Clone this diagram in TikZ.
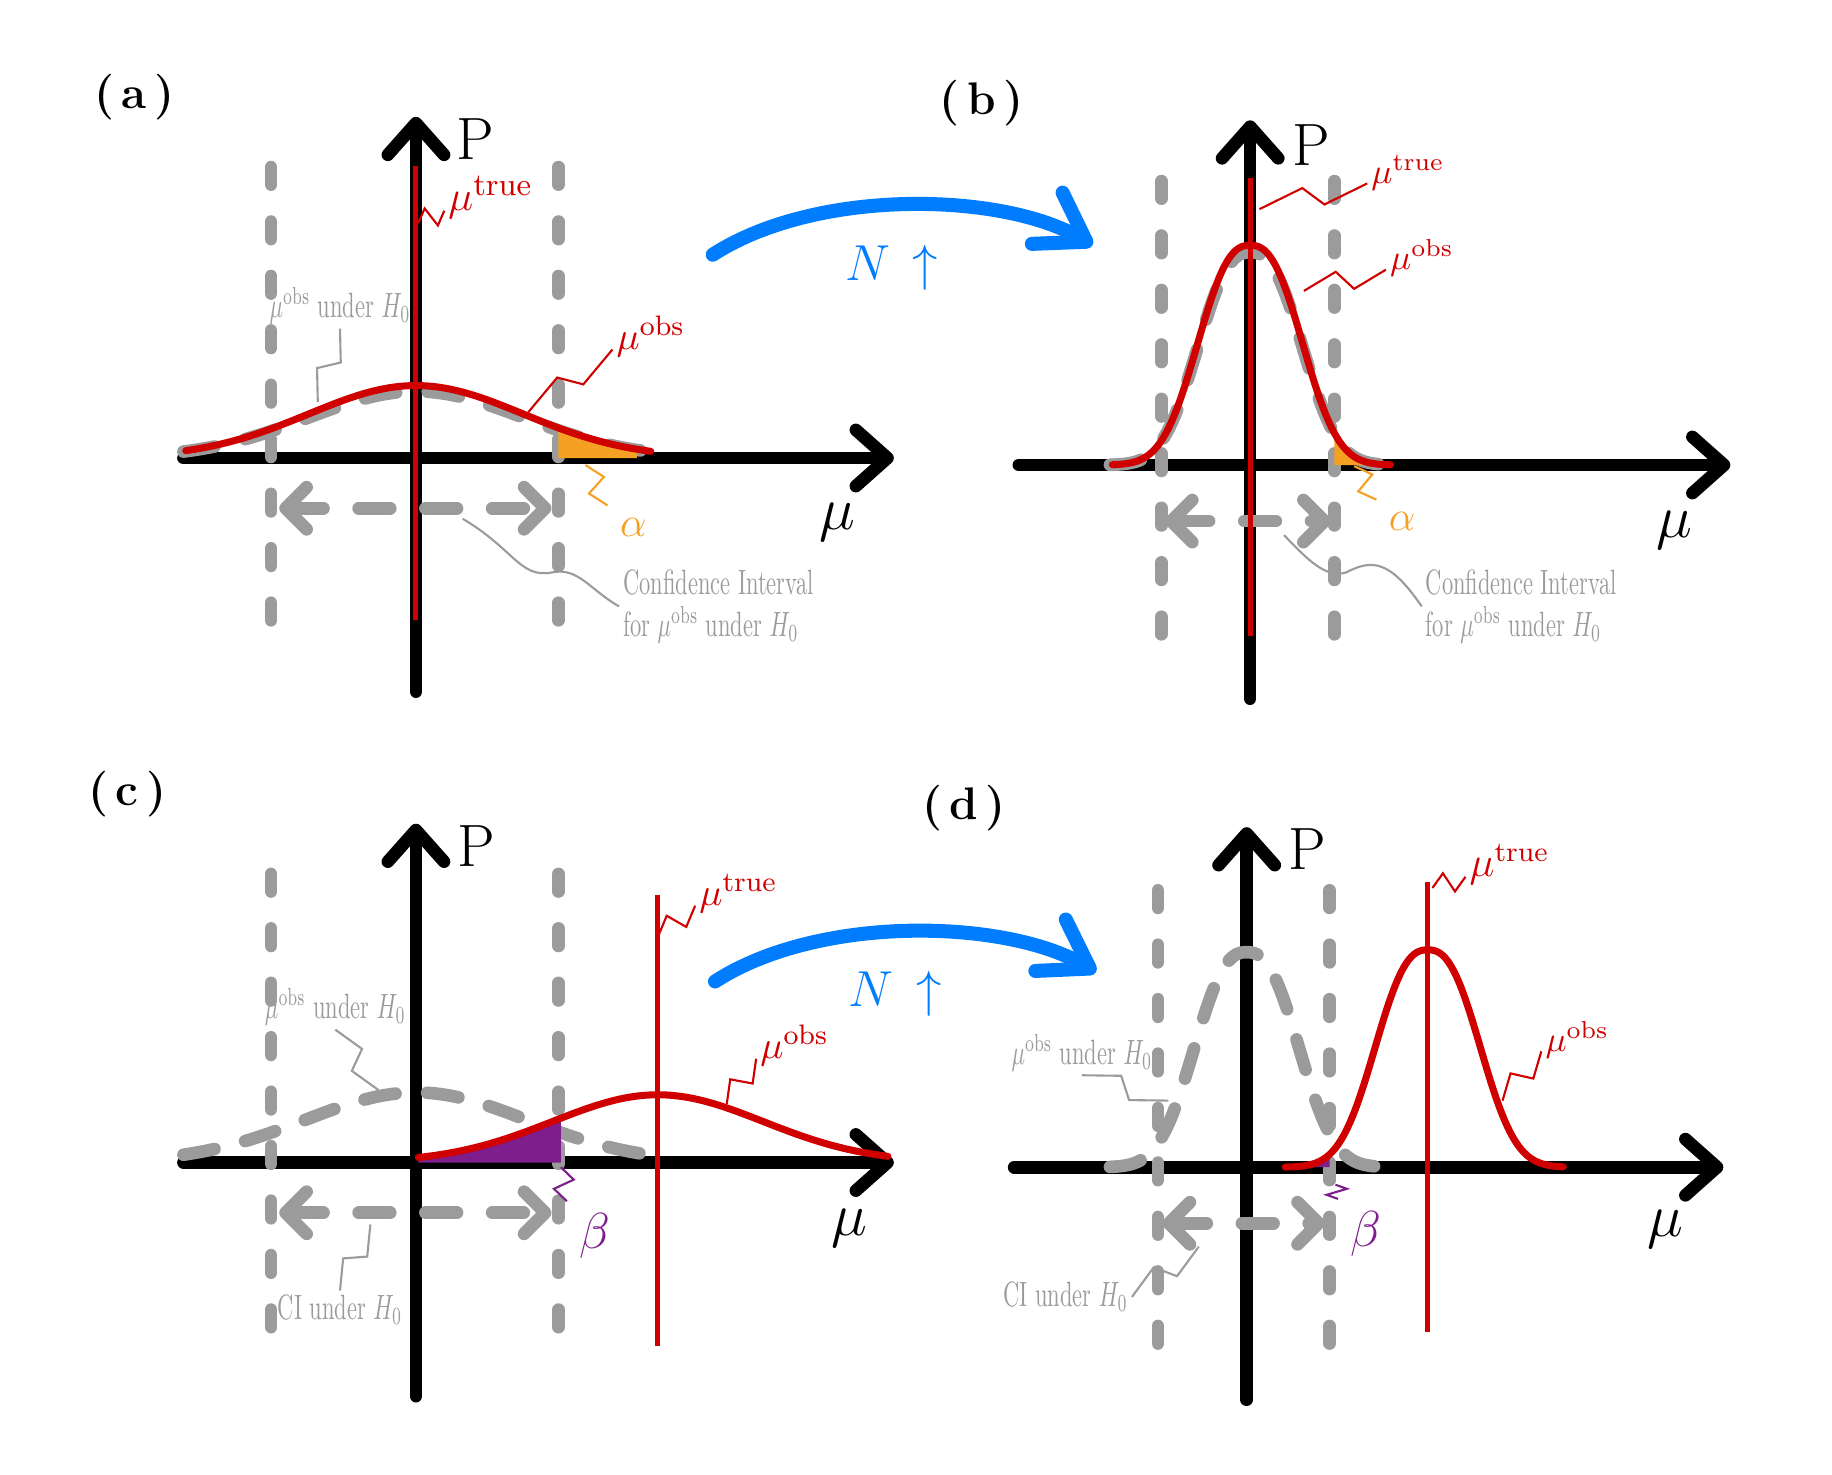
\documentclass[tikz,border=0pt]{standalone}
\usepackage{amsmath, amssymb}
\usepackage{xcolor}
\usepackage{tikz}
\usetikzlibrary{arrows.meta, calc}

\definecolor{obsred}{RGB}{208,0,0}
\definecolor{hogray}{RGB}{155,155,155}
\definecolor{powblue}{RGB}{0,125,255}
\definecolor{alphaorange}{RGB}{245,160,35}
\definecolor{betapurple}{RGB}{125,30,140}

\newcommand{\slim}[1]{\scalebox{0.64}[1]{#1}}
\newcommand{\wiggle}[3]{\draw[#1] (#2) -- ($(#2)!0.42!(#3)!3pt!90:(#3)$) -- ($(#2)!0.58!(#3)!3pt!-90:(#3)$) -- (#3);}

\begin{document}
\begin{tikzpicture}[x=0.011684cm, y=-0.011684cm,
    axis/.style={line width=3.6pt, line cap=round, -{Straight Barb[length=9pt, width=16pt, round]}},
    guide/.style={draw=hogray, line width=3.6pt, line cap=round, dash pattern=on 5pt off 10.5pt},
    ci/.style={draw=hogray, line width=3.6pt, line cap=round, dash pattern=on 9pt off 10pt, arrows={Straight Barb[length=6pt, width=12pt, round]-Straight Barb[length=6pt, width=12pt, round]}},
    nullpdf/.style={draw=hogray, line width=3.6pt, line cap=round, dash pattern=on 9pt off 9pt},
    obspdf/.style={draw=obsred, line width=2pt, line cap=round},
    truth/.style={draw=obsred, line width=1.4pt},
    more/.style={draw=powblue, line width=4pt, line cap=round, -{Straight Barb[length=13pt, width=17pt, round]}},
    tag/.style={font=\fontsize{13}{15}\selectfont\bfseries},
    axlab/.style={inner sep=1pt, font=\fontsize{19}{21}\selectfont},
    plab/.style={inner sep=1pt, font=\fontsize{17}{19}\selectfont},
    redlab/.style={text=obsred, inner sep=1pt, font=\fontsize{11}{13}\selectfont},
    graylab/.style={text=hogray, inner sep=1pt, align=left, font=\fontsize{10}{12}\selectfont},
    bluelab/.style={text=powblue, inner sep=1pt, font=\fontsize{15}{17}\selectfont},
    lead_red/.style={draw=obsred, line width=0.6pt},
    lead_gray/.style={draw=hogray, line width=0.6pt},
    lead_orange/.style={draw=alphaorange, line width=0.6pt},
    lead_purple/.style={draw=betapurple, line width=0.6pt}
]
    \useasboundingbox (0,0) rectangle (1568,1262);

    % (a): H0 true, small N
    \node[tag] (a-tag) at (115,83) {(\,a\,)};
    \draw[axis] (157,392) -- (765,392);
    \draw[axis] (356,592) -- (356,100);
    \node[plab] (a-P) at (407,119) {P};
    \node[axlab] (a-mu) at (717,447) {$\mu$};
    \draw[guide] (232,143) -- (232,540);
    \draw[guide] (478,143) -- (478,540);
    \draw[ci] (239,435) -- (472,435);
    \draw[nullpdf] plot[domain=157:560, samples=90] (\x, {392-57*exp(-0.5*((\x-356)/92)^2)});
    \fill[alphaorange] plot[domain=478:545, samples=30] (\x, {392-62*exp(-0.5*((\x-356)/92)^2)}) -- (545,392) -- (478,392) -- cycle;
    \draw[obspdf] plot[domain=159:557, samples=90] (\x, {392-62*exp(-0.5*((\x-356)/92)^2)});
    \draw[truth] (356,142) -- (356,531);

    \node[redlab, font=\fontsize{13}{15}\selectfont] (a-true) at (420,169) {$\mu^{\mathrm{true}}$};
    \node[redlab] (a-obs) at (557,288) {$\mu^{\mathrm{obs}}$};
    \node[graylab] (a-null) at (291,262) {\slim{$\mu^{\mathrm{obs}}$ under $H_0$}};
    \node[text=alphaorange, font=\fontsize{13}{15}\selectfont] (a-alpha) at (542,451) {$\alpha$};
    \node[graylab] (a-ci) at (615,519) {\slim{Confidence Interval}\\\slim{for $\mu^{\mathrm{obs}}$ under $H_0$}};
    \coordinate (a-true-pt) at (358,191);
    \coordinate (a-obs-pt) at (452,353);
    \coordinate (a-null-pt) at (272,344);
    \coordinate (a-alpha-pt) at (501,398);
    \coordinate (a-ci-pt) at (396,444);
    \wiggle{lead_red}{a-true-pt}{a-true.base west}
    \wiggle{lead_red}{a-obs-pt}{a-obs.base west}
    \wiggle{lead_gray}{a-null-pt}{a-null.south}
    \wiggle{lead_orange}{a-alpha-pt}{a-alpha.north west}
    \draw[lead_gray] (a-ci-pt) .. controls (440,470) and (445,495) .. (472,490) .. controls (495,485) and (505,505) .. (a-ci.west);

    % arrow (a) -> (b)
    \draw[more] (610,218) .. controls (700,160) and (860,165) .. (935,210);
    \node[bluelab] (ab-N) at (763,229) {$N\,\uparrow$};

    % (b): H0 true, large N
    \node[tag] (b-tag) at (840,88) {(\,b\,)};
    \draw[axis] (872,398) -- (1481,398);
    \draw[axis] (1070,598) -- (1070,103);
    \node[plab] (b-P) at (1122,124) {P};
    \node[axlab] (b-mu) at (1433,454) {$\mu$};
    \draw[guide] (994,155) -- (994,554);
    \draw[guide] (1142,155) -- (1142,554);
    \draw[ci] (997,446) -- (1139,446);
    \draw[nullpdf] plot[domain=950:1192, samples=100] (\x, {398-182*exp(-0.5*((\x-1070)/42)^2*sqrt(abs((\x-1070)/42)))});
    \fill[alphaorange] plot[domain=1142:1190, samples=30] (\x, {398-188*exp(-0.5*((\x-1070)/42)^2*sqrt(abs((\x-1070)/42)))}) -- (1190,398) -- (1142,398) -- cycle;
    \draw[obspdf] plot[domain=952:1190, samples=100] (\x, {398-188*exp(-0.5*((\x-1070)/42)^2*sqrt(abs((\x-1070)/42)))});
    \draw[truth] (1070,152) -- (1070,544);

    \node[redlab, font=\fontsize{10}{12}\selectfont] (b-true) at (1205,148) {$\mu^{\mathrm{true}}$};
    \node[redlab, font=\fontsize{10}{12}\selectfont] (b-obs) at (1217,221) {$\mu^{\mathrm{obs}}$};
    \node[text=alphaorange, font=\fontsize{13}{15}\selectfont] (b-alpha) at (1200,446) {$\alpha$};
    \node[graylab] (b-ci) at (1302,519) {\slim{Confidence Interval}\\\slim{for $\mu^{\mathrm{obs}}$ under $H_0$}};
    \coordinate (b-true-pt) at (1078,179);
    \coordinate (b-obs-pt) at (1116,249);
    \coordinate (b-alpha-pt) at (1159,399);
    \coordinate (b-ci-pt) at (1099,458);
    \wiggle{lead_red}{b-true-pt}{b-true.base west}
    \wiggle{lead_red}{b-obs-pt}{b-obs.base west}
    \wiggle{lead_orange}{b-alpha-pt}{b-alpha.north west}
    \draw[lead_gray] (b-ci-pt) .. controls (1120,480) and (1135,495) .. (1152,490) .. controls (1175,478) and (1190,480) .. (b-ci.west);

    % (c): H0 false, small N
    \node[tag] (c-tag) at (109,680) {(\,c\,)};
    \draw[axis] (157,995) -- (765,995);
    \draw[axis] (356,1195) -- (356,705);
    \node[plab] (c-P) at (408,724) {P};
    \node[axlab] (c-mu) at (727,1051) {$\mu$};
    \draw[guide] (232,748) -- (232,1139);
    \draw[guide] (478,748) -- (478,1139);
    \draw[ci] (239,1038) -- (472,1038);
    \draw[nullpdf] plot[domain=157:563, samples=90] (\x, {995-60*exp(-0.5*((\x-356)/95)^2)});
    \fill[betapurple] plot[domain=358:480, samples=40] (\x, {995-58*exp(-0.5*((\x-563)/90)^2)}) -- (480,995) -- (358,995) -- cycle;
    \draw[obspdf] plot[domain=358:760, samples=90] (\x, {995-58*exp(-0.5*((\x-563)/90)^2)});
    \draw[truth] (563,766) -- (563,1152);

    \node[redlab] (c-true) at (632,765) {$\mu^{\mathrm{true}}$};
    \node[redlab] (c-obs) at (680,895) {$\mu^{\mathrm{obs}}$};
    \node[graylab] (c-null) at (287,862) {\slim{$\mu^{\mathrm{obs}}$ under $H_0$}};
    \node[text=betapurple, font=\fontsize{14}{16}\selectfont] (c-beta) at (509,1058) {$\beta$};
    \node[graylab] (c-ci) at (291,1121) {\slim{CI under $H_0$}};
    \coordinate (c-true-pt) at (563,802);
    \coordinate (c-obs-pt) at (622,945);
    \coordinate (c-null-pt) at (324,933);
    \coordinate (c-beta-pt) at (480,999);
    \coordinate (c-ci-pt) at (317,1048);
    \wiggle{lead_red}{c-true-pt}{c-true.base west}
    \wiggle{lead_red}{c-obs-pt}{c-obs.base west}
    \wiggle{lead_gray}{c-null-pt}{c-null.south}
    \wiggle{lead_purple}{c-beta-pt}{c-beta.north west}
    \wiggle{lead_gray}{c-ci-pt}{c-ci.north}

    % arrow (c) -> (d)
    \draw[more] (612,840) .. controls (702,782) and (862,787) .. (938,832);
    \node[bluelab] (cd-N) at (766,851) {$N\,\uparrow$};

    % (d): H0 false, large N
    \node[tag] (d-tag) at (825,692) {(\,d\,)};
    \draw[axis] (868,999) -- (1475,999);
    \draw[axis] (1067,1198) -- (1067,708);
    \node[plab] (d-P) at (1119,727) {P};
    \node[axlab] (d-mu) at (1425,1052) {$\mu$};
    \draw[guide] (991,762) -- (991,1154);
    \draw[guide] (1138,762) -- (1138,1154);
    \draw[ci] (995,1047) -- (1134,1047);
    \draw[nullpdf] plot[domain=950:1184, samples=100] (\x, {999-184*exp(-0.5*((\x-1067)/42)^2*sqrt(abs((\x-1067)/42)))});
    \fill[betapurple] plot[domain=1100:1138, samples=30] (\x, {999-186*exp(-0.5*((\x-1222)/42)^2*sqrt(abs((\x-1222)/42)))}) -- (1138,999) -- (1100,999) -- cycle;
    \draw[obspdf] plot[domain=1100:1338, samples=100] (\x, {999-186*exp(-0.5*((\x-1222)/42)^2*sqrt(abs((\x-1222)/42)))});
    \draw[truth] (1222,755) -- (1222,1140);

    \node[redlab, font=\fontsize{12}{14}\selectfont] (d-true) at (1292,740) {$\mu^{\mathrm{true}}$};
    \node[redlab, font=\fontsize{10}{12}\selectfont] (d-obs) at (1350,890) {$\mu^{\mathrm{obs}}$};
    \node[graylab] (d-null) at (926,901) {\slim{$\mu^{\mathrm{obs}}$ under $H_0$}};
    \node[text=betapurple, font=\fontsize{14}{16}\selectfont] (d-beta) at (1169,1056) {$\beta$};
    \node[graylab] (d-ci) at (912,1110) {\slim{CI under $H_0$}};
    \coordinate (d-true-pt) at (1226,760);
    \coordinate (d-obs-pt) at (1286,942);
    \coordinate (d-null-pt) at (1000,942);
    \coordinate (d-beta-pt) at (1143,1014);
    \coordinate (d-ci-pt) at (1026,1067);
    \wiggle{lead_red}{d-true-pt}{d-true.base west}
    \wiggle{lead_red}{d-obs-pt}{d-obs.base west}
    \wiggle{lead_gray}{d-null-pt}{d-null.south}
    \wiggle{lead_purple}{d-beta-pt}{d-beta.north west}
    \wiggle{lead_gray}{d-ci-pt}{d-ci.east}
\end{tikzpicture}
\end{document}
